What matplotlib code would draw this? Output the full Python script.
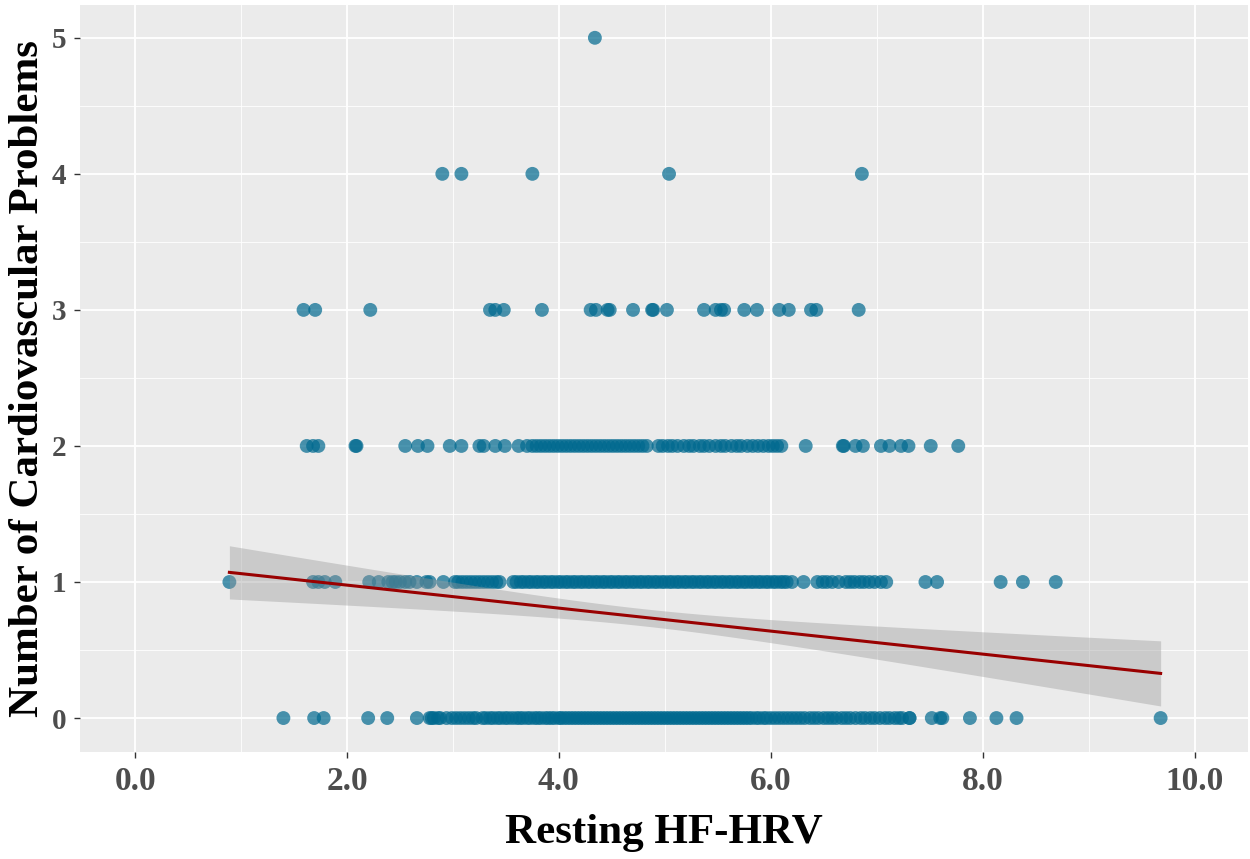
import numpy as np
import matplotlib
matplotlib.use("Agg")
import matplotlib.pyplot as plt
from matplotlib.ticker import MultipleLocator, FormatStrFormatter

# resting HF-HRV values for each count of cardiovascular problems
hrv_0 = [1.40, 1.69, 1.78, 2.20, 2.38, 2.66, 2.78, 2.80, 2.82, 2.86, 2.88, 2.94, 2.99,
         3.03, 3.07, 3.11, 3.15, 3.19, 3.22,
         3.28, 3.31, 3.35, 3.38, 3.42, 3.45, 3.49, 3.52, 3.56, 3.60, 3.63, 3.66, 3.70,
         3.73, 3.77, 3.80, 3.83, 3.87, 3.90, 3.93, 3.96, 4.00, 4.02, 4.05, 4.08, 4.11,
         4.14, 4.17, 4.20, 4.23, 4.26, 4.29, 4.32, 4.35, 4.38, 4.41, 4.44, 4.47, 4.50,
         4.53, 4.56, 4.59, 4.62, 4.65, 4.68, 4.71, 4.74, 4.77, 4.80, 4.83, 4.86, 4.89,
         4.92, 4.95, 4.98, 5.01, 5.04, 5.07, 5.10, 5.13, 5.16, 5.19, 5.22, 5.25, 5.28,
         5.31, 5.34, 5.37, 5.40, 5.43, 5.46, 5.49, 5.52, 5.55, 5.58, 5.61, 5.64, 5.67,
         5.70, 5.73, 5.76, 5.79, 5.82, 5.86, 5.89, 5.93, 5.96, 6.00, 6.04, 6.08, 6.12,
         6.16, 6.20, 6.24, 6.28, 6.32, 6.37, 6.41, 6.45, 6.50, 6.54, 6.58, 6.62, 6.67,
         6.71, 6.75, 6.80, 6.85, 6.89, 6.94, 6.98, 7.03, 7.08, 7.12, 7.17, 7.21, 7.24,
         7.31, 7.31, 7.52, 7.60, 7.62, 7.88, 8.13, 8.32, 9.68]
hrv_1 = [0.89, 1.68, 1.73, 1.79, 1.89, 2.21, 2.30, 2.39, 2.43, 2.46, 2.50, 2.55, 2.59,
         2.66, 2.75, 2.78, 2.91, 3.02, 3.05, 3.09, 3.13, 3.17, 3.21, 3.25, 3.29, 3.33,
         3.37, 3.41, 3.44,
         3.57, 3.60, 3.64, 3.67, 3.71, 3.74, 3.78, 3.81, 3.85, 3.88, 3.92, 3.95, 3.99,
         4.02, 4.06, 4.09, 4.13, 4.16, 4.20, 4.23, 4.27, 4.30, 4.34, 4.37, 4.41, 4.44,
         4.48, 4.51, 4.55, 4.58, 4.62, 4.65, 4.69, 4.72, 4.76, 4.79, 4.83, 4.86, 4.90,
         4.93, 4.97, 5.00, 5.04, 5.07, 5.11, 5.14, 5.18, 5.21, 5.25, 5.28, 5.32, 5.35,
         5.39, 5.42, 5.46, 5.49, 5.53, 5.56, 5.60, 5.63, 5.67, 5.70, 5.74, 5.77, 5.81,
         5.84, 5.88, 5.91, 5.95, 5.98, 6.02, 6.05, 6.09, 6.12, 6.15,
         6.20, 6.31, 6.44, 6.49, 6.53, 6.58, 6.64, 6.71, 6.75, 6.79, 6.84, 6.88, 6.93,
         6.98, 7.04, 7.09, 7.46, 7.57, 8.17, 8.38, 8.69]
hrv_2 = [1.62, 1.68, 1.73, 2.08, 2.09, 2.55, 2.67, 2.76, 2.97, 3.08, 3.25, 3.29, 3.40,
         3.49, 3.62, 3.70,
         3.75, 3.79, 3.83, 3.87, 3.91, 3.95, 3.99, 4.03, 4.07, 4.11, 4.15, 4.19, 4.23,
         4.27, 4.31, 4.35, 4.39, 4.43, 4.47, 4.51, 4.55, 4.59, 4.63, 4.67, 4.71, 4.75,
         4.79, 4.83,
         4.94, 4.98, 5.03, 5.07, 5.12, 5.18, 5.23, 5.27, 5.33, 5.37, 5.42, 5.48, 5.53,
         5.57, 5.63, 5.68, 5.72, 5.78, 5.83, 5.88, 5.93, 5.98, 6.02, 6.06, 6.10,
         6.33, 6.68, 6.69, 6.80, 6.87, 7.04, 7.12, 7.23, 7.30, 7.51, 7.77]
hrv_3 = [1.59, 1.70, 2.22, 3.35, 3.40, 3.48, 3.84, 4.30, 4.35, 4.46, 4.48, 4.70, 4.88,
         4.89, 5.02, 5.37, 5.48, 5.53, 5.56, 5.75, 5.87, 6.08, 6.17, 6.38, 6.43, 6.83]
hrv_4 = [2.90, 3.08, 3.75, 5.04, 6.86]
hrv_5 = [4.34]

# linear fit: intercept, slope, and band half-width terms
fit_intercept = 1.146
fit_slope = -0.0845
fit_center = 4.8
band_s0 = 0.063
band_k = 0.00224

groups = [hrv_0, hrv_1, hrv_2, hrv_3, hrv_4, hrv_5]

fig = plt.figure(figsize=(12.5, 8.59), dpi=100)
ax = fig.add_axes([0.064, 0.1245, 0.934, 0.8695])
ax.set_facecolor("#EBEBEB")
for s in ax.spines.values():
    s.set_visible(False)

for n, xs in enumerate(groups):
    ax.scatter(xs, [n] * len(xs), s=100, color="#00698f", alpha=0.7,
               edgecolors="none", zorder=3)

all_x = np.concatenate([np.array(g) for g in groups])
xf = np.linspace(all_x.min(), all_x.max(), 100)
yf = fit_intercept + fit_slope * xf
half = np.sqrt(band_s0 ** 2 + band_k * (xf - fit_center) ** 2)
ax.fill_between(xf, yf - half, yf + half, color="#999999", alpha=0.4,
                linewidth=0, zorder=4)
ax.plot(xf, yf, color="#990000", linewidth=2.2, zorder=5)

ax.set_xlim(-0.52, 10.5)
ax.set_ylim(-0.25, 5.24)
ax.xaxis.set_major_locator(MultipleLocator(2))
ax.xaxis.set_minor_locator(MultipleLocator(1))
ax.yaxis.set_major_locator(MultipleLocator(1))
ax.yaxis.set_minor_locator(MultipleLocator(0.5))
ax.xaxis.set_major_formatter(FormatStrFormatter("%.1f"))

ax.grid(which="major", color="white", linewidth=1.3, zorder=0)
ax.grid(which="minor", color="white", linewidth=0.6, zorder=0)
ax.set_axisbelow(True)

ax.tick_params(which="major", length=4, width=1, color="#333333",
               labelcolor="#4d4d4d", pad=6)
ax.tick_params(which="minor", length=0)
for lab in ax.get_xticklabels():
    lab.set_fontfamily("Liberation Serif")
    lab.set_fontweight("bold")
    lab.set_fontsize(24)
for lab in ax.get_yticklabels():
    lab.set_fontfamily("Liberation Serif")
    lab.set_fontweight("bold")
    lab.set_fontsize(21)

ax.set_xlabel("Resting HF-HRV", fontfamily="Liberation Serif", fontweight="bold",
              fontsize=31, labelpad=12)
ax.set_ylabel("Number of Cardiovascular Problems", fontfamily="Liberation Serif",
              fontweight="bold", fontsize=31, labelpad=3)

fig.savefig("out.png", dpi=100)
